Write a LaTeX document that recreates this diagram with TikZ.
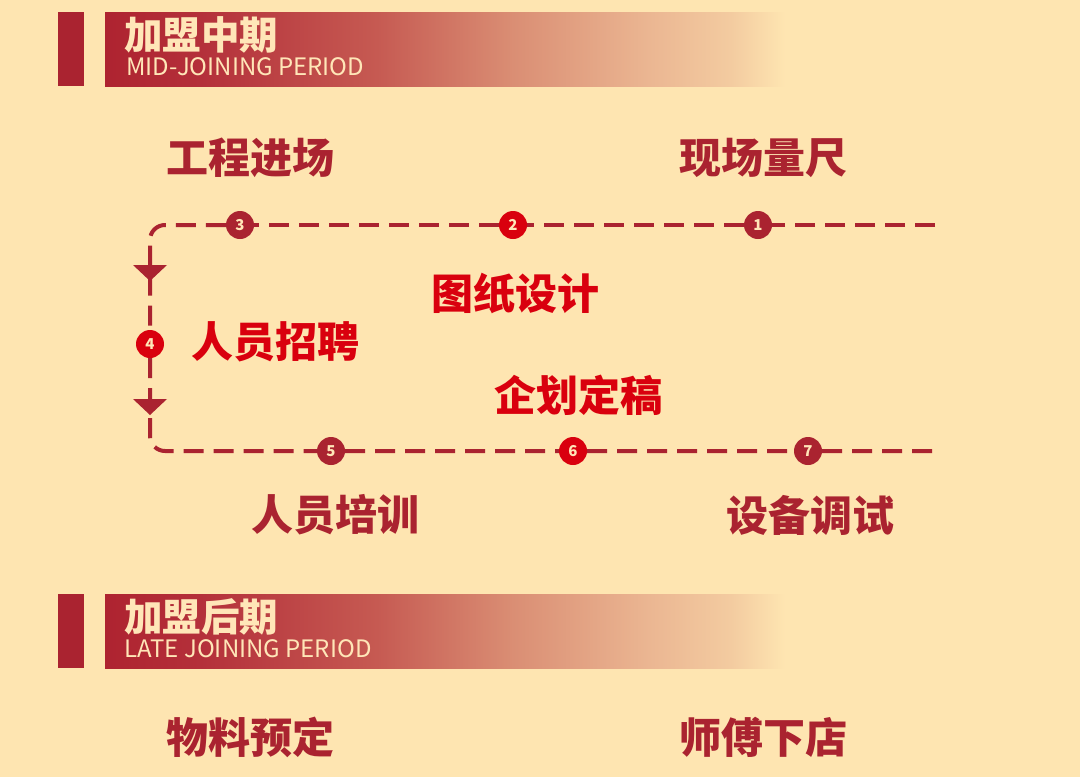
\documentclass[tikz,border=0pt]{standalone}
\usepackage{fontspec}
\usetikzlibrary{backgrounds}
\newfontfamily\cjk{Noto Sans CJK SC}
\definecolor{bgcream}{HTML}{FEE5B1}
\definecolor{dkred}{HTML}{AA2330}
\definecolor{brred}{HTML}{D9000E}
\definecolor{txtcream}{HTML}{FFE6B8}
\definecolor{hdrA}{HTML}{AE2330}
\definecolor{hdrB}{HTML}{B4303A}
\definecolor{hdrC}{HTML}{C65A52}
\definecolor{hdrD}{HTML}{DA8E74}
\definecolor{hdrE}{HTML}{EBB692}
\definecolor{hdrF}{HTML}{F3CBA0}
\pgfdeclarehorizontalshading{hdrfade}{100bp}{color(0bp)=(hdrA); color(25bp)=(hdrA); color(32bp)=(hdrB); color(45bp)=(hdrC); color(55bp)=(hdrD); color(65bp)=(hdrE); color(71bp)=(hdrF); color(75bp)=(bgcream); color(100bp)=(bgcream)}

\begin{document}
\begin{tikzpicture}[x=1pt,y=-1pt,
    flow/.style={draw=dkred,line width=4pt,dash pattern=on 20pt off 10pt},
    dot/.style={circle,fill=dkred,minimum size=28pt,inner sep=0pt,text=txtcream,font=\cjk\bfseries\fontsize{15}{15}\selectfont},
    hot/.style={dot,fill=brred},
    lbl/.style={inner sep=0pt,text=dkred,font=\cjk\bfseries\fontsize{42}{42}\selectfont},
    hotlbl/.style={lbl,text=brred},
    hdrcn/.style={inner sep=0pt,anchor=base west,text=txtcream,font=\cjk\bfseries\fontsize{38.5}{38.5}\selectfont},
    hdren/.style={inner sep=0pt,anchor=base west,text=txtcream,font=\cjk\fontsize{24}{24}\selectfont}]
    \useasboundingbox (0,0) rectangle (1080,777);
    %HEADERS
    \foreach \y in {12,594}{
      \fill[dkred] (58,\y) rectangle (84,\y+74);
      \shade[shading=hdrfade] (105,\y) rectangle (785,\y+74);
    }
    \node[hdrcn] (hdmid) at (124,49) {加盟中期};
    \node[hdren] (hdmiden) at (126,75) {MID-JOINING PERIOD};
    \node[hdrcn] (hdlate) at (124,631) {加盟后期};
    \node[hdren] (hdlateen) at (124,657) {LATE JOINING PERIOD};
    %STEPS
    \foreach \i/\x/\y/\s in {1/758/225/dot,2/513/225/hot,3/240/225/dot,4/150/344/hot,
                             5/331/451/dot,6/573/451/hot,7/808/451/dot}
      \node[\s] (n\i) at (\x,\y) {\i};
    \coordinate (topend) at (935,225);
    \coordinate (botend) at (935,451);
    \coordinate (tl) at (150,225);
    \coordinate (bl) at (150,451);
    \coordinate (a1) at (150,281);
    \coordinate (a2) at (150,415);
    \begin{pgfonlayer}{background}
      \fill[bgcream] (0,0) rectangle (1080,777);
      \draw[flow] (topend) -- (n1) -- (n2) -- (n3);
      \draw[flow,rounded corners=15pt] (n3) -- (tl) -- (n4);
      \draw[flow,rounded corners=15pt] (n4) -- (bl) -- (n5) -- (n6) -- (n7) -- (botend);
    \end{pgfonlayer}
    \foreach \a in {a1,a2}
      \fill[dkred] ([shift={(-17,-16)}]\a) -- ([shift={(17,-16)}]\a) -- (\a) -- cycle;
    %LABELS
    \node[lbl] (gcjc) at (250,158) {工程进场};
    \node[lbl] (xclc) at (763,158) {现场量尺};
    \node[hotlbl] (tzsj) at (515,293) {图纸设计};
    \node[hotlbl] (ryzp) at (275,342) {人员招聘};
    \node[hotlbl] (qhdg) at (578,395) {企划定稿};
    \node[lbl] (rypx) at (335,515) {人员培训};
    \node[lbl] (sbts) at (810,515) {设备调试};
    \node[lbl] (llyd) at (250,737) {物料预定};
    \node[lbl] (sfxd) at (763,737) {师傅下店};
  \end{tikzpicture}
\end{document}
